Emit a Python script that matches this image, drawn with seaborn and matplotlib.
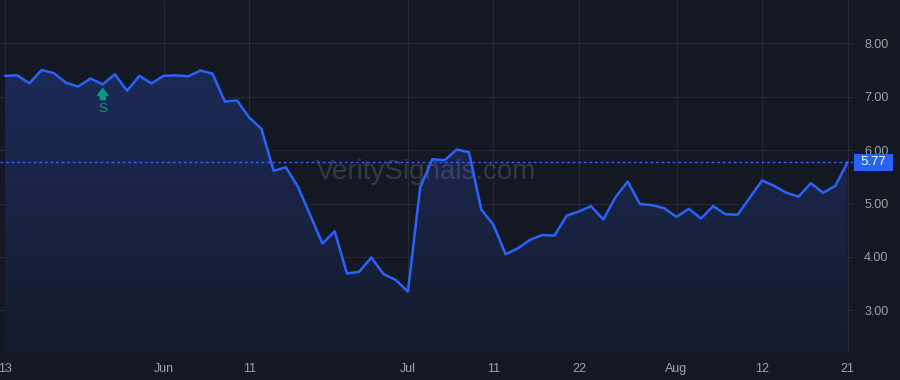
import numpy as np
import pandas as pd
import matplotlib
matplotlib.use("Agg")
import matplotlib.pyplot as plt
import matplotlib.transforms as mtransforms
from matplotlib.patches import Rectangle, PathPatch
from matplotlib.colors import LinearSegmentedColormap
from matplotlib.ticker import FormatStrFormatter
import seaborn as sns

# ---------------- data ----------------
holidays = ["2025-05-26", "2025-06-19", "2025-07-04"]
prices = [7.39, 7.40, 7.25, 7.50, 7.44, 7.26, 7.19, 7.34, 7.23, 7.42,
          7.11, 7.39, 7.25, 7.39, 7.40, 7.38, 7.49, 7.43, 6.91, 6.93,
          6.61, 6.40, 5.61, 5.68, 5.31, 4.78, 4.25, 4.48, 3.69, 3.72,
          3.99, 3.68, 3.57, 3.35, 5.30, 5.83, 5.81, 6.01, 5.96, 4.89,
          4.60, 4.05, 4.16, 4.32, 4.41, 4.40, 4.77, 4.85, 4.95, 4.70,
          5.12, 5.41, 4.99, 4.97, 4.91, 4.75, 4.90, 4.72, 4.95, 4.80,
          4.79, 5.11, 5.43, 5.33, 5.20, 5.13, 5.38, 5.20, 5.33, 5.77]
tick_dates = ["2025-05-13", "2025-06-02", "2025-06-11", "2025-07-01", "2025-07-11",
              "2025-07-22", "2025-08-01", "2025-08-12", "2025-08-21"]
tick_labels = ["13", "Jun", "11", "Jul", "11", "22", "Aug", "12", "21"]
y_ticks = [3, 4, 5, 6, 7, 8]
signal_date = "2025-05-23"
signal_text = "S"
watermark = "VeritySignals.com"

dates = pd.bdate_range("2025-05-13", "2025-08-21", freq="C", holidays=holidays)
df = pd.DataFrame({"date": dates, "price": prices})
df["idx"] = np.arange(len(df))
tick_pos = [int(df.index[df["date"] == pd.Timestamp(d)][0]) for d in tick_dates]
sig_idx = int(df.index[df["date"] == pd.Timestamp(signal_date)][0])
sig_price = df.loc[sig_idx, "price"]

# ---------------- style ----------------
BG = "#141823"
GRID = "#262a36"
BLUE = "#2962ff"
GREEN = "#089981"
TXT = "#a0a3ab"

sns.set_theme(style="dark", rc={"axes.facecolor": BG, "figure.facecolor": BG})
plt.rcParams["font.family"] = ["Liberation Sans", "DejaVu Sans"]

fig = plt.figure(figsize=(9, 3.8), dpi=100, facecolor=BG)
ax = fig.add_axes([0, 28 / 380, 853 / 900, 352 / 380])
ax.set_facecolor(BG)

x0, x1 = -0.41, len(df) - 1 + 0.45
y0, y1 = 2.22, 8.81

# gradient fill under the line
fb = ax.fill_between(df["idx"], df["price"], y0, color="none", lw=0)
clip = PathPatch(fb.get_paths()[0], transform=ax.transData, facecolor="none", edgecolor="none")
ax.add_patch(clip)
cmap = LinearSegmentedColormap.from_list("g", ["#151b2d", "#1c2a58"])
grad = np.linspace(0, 1, 256).reshape(-1, 1)
im = ax.imshow(grad, extent=[df["idx"].min(), df["idx"].max(), y0, df["price"].max()],
               origin="lower", aspect="auto", cmap=cmap, zorder=1)
im.set_clip_path(clip)

# watermark
ax.text(0.5, 0.51, watermark, transform=ax.transAxes, ha="center", va="center",
        fontsize=20, color="#8a8d96", alpha=0.28, zorder=2)

# last price dotted line
ax.axhline(prices[-1], color=BLUE, lw=1, ls=(0, (2, 2)), zorder=2)

# main line
sns.lineplot(data=df, x="idx", y="price", ax=ax, color=BLUE, lw=1.8, zorder=3)

ax.set_xlim(x0, x1)
ax.set_ylim(y0, y1)

# grid & ticks
ax.grid(True, color=GRID, lw=0.8)
ax.set_axisbelow(True)
for s in ax.spines.values():
    s.set_visible(False)
ax.set_xticks(tick_pos)
ax.set_xticklabels(tick_labels)
ax.yaxis.tick_right()
ax.set_yticks(y_ticks)
ax.yaxis.set_major_formatter(FormatStrFormatter("%.2f"))
ax.tick_params(axis="both", length=0, colors=TXT, labelsize=9)
ax.tick_params(axis="y", pad=8)
ax.tick_params(axis="x", pad=8)
ax.set_xlabel("")
ax.set_ylabel("")

# signal marker
tip = mtransforms.offset_copy(ax.transData, fig=fig, x=0, y=-3, units="points")
ax.annotate("", xy=(sig_idx, sig_price), xycoords=tip, xytext=(0, -8), textcoords="offset points",
            arrowprops=dict(arrowstyle="simple,head_length=0.5,head_width=0.75,tail_width=0.35",
                            color=GREEN, shrinkA=0, shrinkB=0, mutation_scale=10), zorder=4)
ax.annotate(signal_text, xy=(sig_idx, sig_price), xytext=(0, -18), textcoords="offset points",
            ha="center", va="center", color=GREEN, fontsize=9.5, zorder=4)

# last price label box
fig.canvas.draw()
yd = ax.transData.transform((0, prices[-1]))[1]
xr = ax.transAxes.transform((1, 0))[0]
rect = Rectangle((xr + 1, yd - 8.5), 39, 17, transform=mtransforms.IdentityTransform(),
                 facecolor=BLUE, edgecolor="none", zorder=5)
fig.add_artist(rect)
fig.text(xr + 1 + 19.5, yd, f"{prices[-1]:.2f}", transform=mtransforms.IdentityTransform(),
         ha="center", va="center", color="white", fontsize=9.5, zorder=6)

fig.savefig("out.png", dpi=100, facecolor=BG)
